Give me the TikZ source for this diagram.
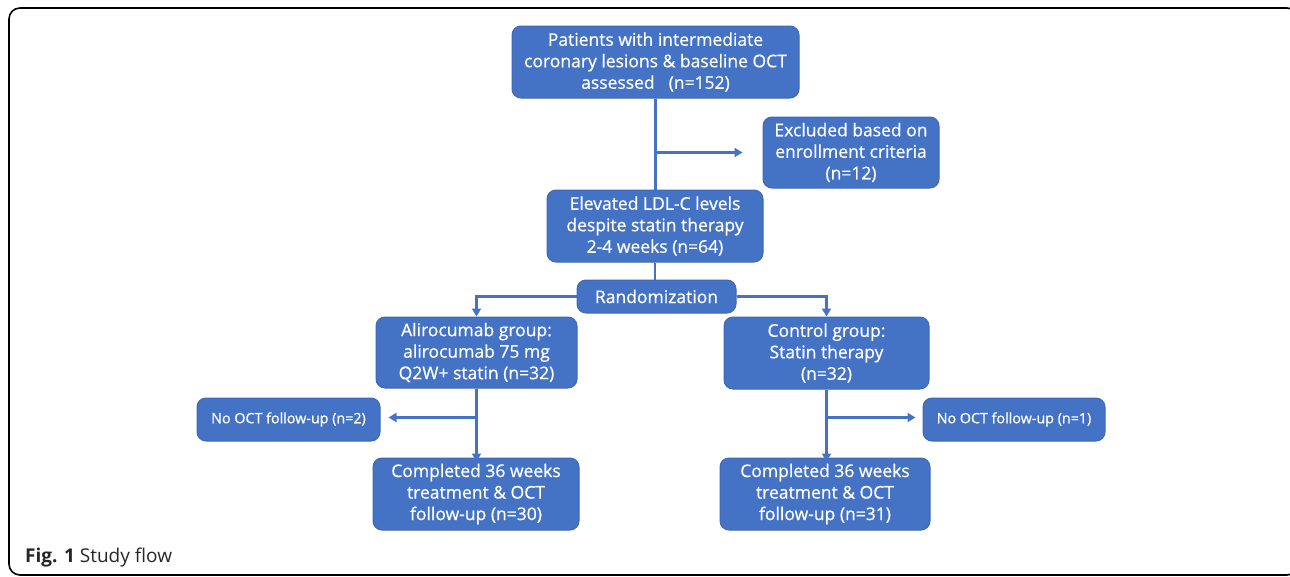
\documentclass[tikz,border=0pt]{standalone}
\usepackage{fontspec}
\setmainfont{Open Sans}
\newfontfamily\boxfont{Open Sans}[FakeBold=0.7]
\usetikzlibrary{arrows.meta}
\definecolor{boxblue}{HTML}{4472C4}
\definecolor{edgeblue}{HTML}{3F68B5}
\begin{document}
\begin{tikzpicture}[x=1pt,y=-1pt,
  box/.style={draw=edgeblue, line width=1pt, fill=boxblue, rounded corners=9pt, text=white, align=center, inner sep=0pt, font=\boxfont\fontsize{17.5}{21.5}\selectfont},
  smallbox/.style={box, font=\boxfont\fontsize{14.3}{16}\selectfont},
  conn/.style={draw=boxblue, line width=2.4pt},
  arr/.style={conn, -{Triangle[length=8pt,width=9pt]}},
]
\useasboundingbox (0,0) rectangle (1290,576);
\draw[line width=1.6pt, rounded corners=11pt] (9,8) rectangle (1298,575);

\node[box, minimum width=287pt, minimum height=72pt] (top) at (655.5,62) {Patients with intermediate\\coronary lesions \& baseline OCT\\assessed\hspace{0.8em}(n=152)};
\node[box, minimum width=176pt, minimum height=71pt] (excl) at (851,152.5) {Excluded based on\\enrollment criteria\\(n=12)};
\node[box, minimum width=216pt, minimum height=72pt] (elev) at (655,226) {Elevated LDL-C levels\\despite statin therapy\\2-4 weeks (n=64)};
\node[box, minimum width=159pt, minimum height=33pt] (rand) at (656.5,296.5) {Randomization};
\node[box, minimum width=201pt, minimum height=71pt] (alir) at (476.5,352.5) {Alirocumab group:\\ alirocumab 75 mg\\Q2W+ statin (n=32)};
\node[box, minimum width=205pt, minimum height=72pt] (ctrl) at (826.5,353) {Control group:\\Statin therapy\\(n=32)};
\node[smallbox, minimum width=183pt, minimum height=43pt] (no2) at (288.5,419.5) {No OCT follow-up (n=2)};
\node[smallbox, minimum width=182pt, minimum height=43pt] (no1) at (1014,419.5) {No OCT follow-up (n=1)};
\node[box, minimum width=206pt, minimum height=72pt] (compL) at (476,494) {Completed 36 weeks\\treatment \& OCT\\follow-up (n=30)};
\node[box, minimum width=210pt, minimum height=72pt] (compR) at (825,494) {Completed 36 weeks\\treatment \& OCT\\follow-up (n=31)};

\draw[conn] (top.south) -- (top.south |- elev.north);
\coordinate (b1) at (top.south |- excl.west);
\draw[arr] (b1) -- ([xshift=-20pt]excl.west);
\draw[conn] (elev.south) -- (elev.south |- rand.north);
\draw[arr] (rand.west) -| (alir.north);
\draw[arr] (rand.east) -| (ctrl.north);
\draw[arr] (alir.south) -- ([yshift=-4pt]alir.south |- compL.north);
\coordinate (b2) at ([yshift=2pt]alir.south |- no2.east);
\draw[arr] (b2) -- ([xshift=8pt,yshift=2pt]no2.east);
\draw[arr] (ctrl.south) -- ([yshift=-4pt]ctrl.south |- compR.north);
\coordinate (b3) at ([yshift=2pt]ctrl.south |- no1.west);
\draw[arr] (b3) -- ([xshift=-7pt,yshift=2pt]no1.west);

\node[anchor=base west, inner sep=0pt, font=\fontsize{19}{22}\selectfont, text=black!85] (cap) at (25,562) {\textbf{Fig. 1} Study flow};
\end{tikzpicture}
\end{document}
